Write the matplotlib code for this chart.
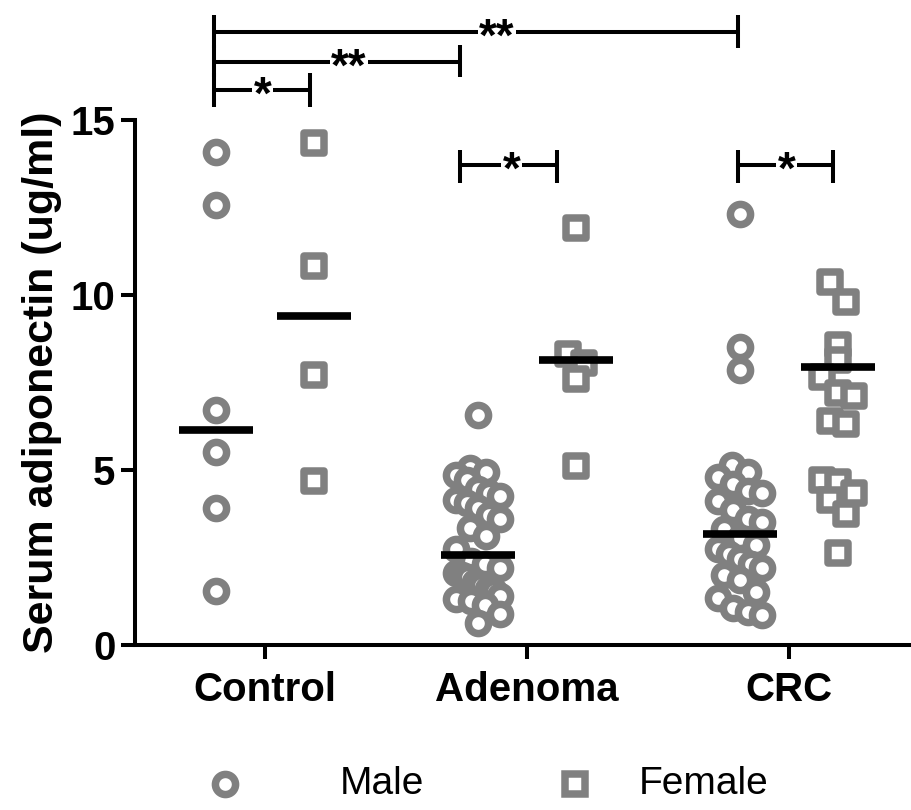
import numpy as np
import matplotlib.pyplot as plt
from matplotlib.lines import Line2D

plt.rcParams['font.family'] = ['Liberation Sans', 'DejaVu Sans']

# Daten
groups = ['Control', 'Adenoma', 'CRC']

control_male = [14.09, 12.57, 6.71, 5.51, 3.91, 1.54]
control_female = [14.34, 10.83, 7.71, 4.69]
adenoma_male = [6.57, 5.06, 4.95, 4.85, 4.7, 4.45, 4.35, 4.25, 4.15, 4.05, 3.9, 3.7,
                3.6, 3.35, 3.1, 2.75, 2.4, 2.3, 2.2, 2.05, 2.0, 1.95, 1.8, 1.7, 1.6,
                1.55, 1.4, 1.3, 1.25, 1.15, 0.9, 0.63]
adenoma_female = [11.9, 8.3, 8.05, 7.6, 5.1]
crc_male = [12.3, 8.5, 7.85, 5.15, 4.95, 4.8, 4.6, 4.4, 4.35, 4.1, 3.85, 3.6, 3.5,
            3.3, 3.05, 2.85, 2.75, 2.6, 2.45, 2.3, 2.2, 2.0, 1.85, 1.5, 1.35, 1.05,
            0.95, 0.85]
crc_female = [10.37, 9.8, 8.57, 8.15, 7.65, 7.2, 7.1, 6.4, 6.3, 4.7, 4.65, 4.35,
              4.15, 3.75, 2.63]

median_male = [6.14, 2.57, 3.17]
median_female = [9.4, 8.13, 7.94]

male = [control_male, adenoma_male, crc_male]
female = [control_female, adenoma_female, crc_female]

# Signifikanzen der Vergleiche
comparisons = ['*', '**', '**', '*', '*']

grey = '#808080'


def spread(vals, center, bin_h=0.7, step=0.062, half_max=0.085):
    # einfache Verteilung wie bei Prism: Punkte im selben y-Bereich nebeneinander
    vals = np.asarray(vals, dtype=float)
    xs = np.full(len(vals), center)
    bins = np.floor(vals / bin_h)
    for b in np.unique(bins):
        idx = np.where(bins == b)[0]
        n = len(idx)
        if n < 2:
            continue
        s = min(step, 2 * half_max / (n - 1))
        idx = idx[np.argsort(-vals[idx])]
        xs[idx] = center + (np.arange(n) - (n - 1) / 2) * s
    return xs


fig = plt.figure(figsize=(9.12, 8.10), dpi=100)
ax = fig.add_axes([0.148, 0.2037, 0.852, 0.6482])

centers = np.arange(1, 4)
off = 0.187
ms = 14.5
mew = 5.4

for i, c in enumerate(centers):
    xm = c - off
    xf = c + off
    ax.scatter(spread(male[i], xm), male[i], s=ms ** 2, marker='o', facecolor='white',
               edgecolor=grey, linewidths=mew, zorder=3, clip_on=False)
    ax.scatter(spread(female[i], xf), female[i], s=ms ** 2, marker='s', facecolor='white',
               edgecolor=grey, linewidths=mew, zorder=3, clip_on=False)
    ax.hlines(median_male[i], xm - 0.14, xm + 0.14, color='black', lw=5.5, zorder=4)
    ax.hlines(median_female[i], xf - 0.14, xf + 0.14, color='black', lw=5.5, zorder=4)

ax.set_xlim(0.504, 3.469)
ax.set_ylim(0, 15)
ax.set_yticks([0, 5, 10, 15])
ax.set_xticks(centers)
ax.set_xticklabels(groups)

for s in ['top', 'right']:
    ax.spines[s].set_visible(False)
for s in ['left', 'bottom']:
    ax.spines[s].set_linewidth(2.9)
ax.tick_params(width=2.9, length=10, labelsize=29)
ax.tick_params(axis='x', pad=9)
ax.tick_params(axis='y', pad=4)
for lab in ax.get_xticklabels() + ax.get_yticklabels():
    lab.set_fontweight('bold')
ax.set_ylabel('Serum adiponectin (ug/ml)', fontsize=31, fontweight='bold', labelpad=6)


def bracket(x1, x2, y, top, bot, label, lx):
    kw = dict(color='black', lw=2.9, clip_on=False, solid_capstyle='butt')
    ax.plot([x1, x2], [y, y], **kw)
    ax.plot([x1, x1], [top, bot], **kw)
    ax.plot([x2, x2], [top, bot], **kw)
    ax.text(lx, y - 0.2, label, ha='center', va='center', fontsize=33,
            fontweight='bold', clip_on=False,
            bbox=dict(facecolor='white', edgecolor='none', pad=1))


bracket(0.805, 1.172, 15.86, 16.34, 15.37, comparisons[0], 0.99)
bracket(0.805, 1.744, 16.66, 17.14, 16.23, comparisons[1], 1.32)
bracket(0.805, 2.805, 17.51, 18.0, 17.06, comparisons[2], 1.885)
bracket(1.744, 2.115, 13.71, 14.14, 13.2, comparisons[3], 1.94)
bracket(2.805, 3.168, 13.71, 14.14, 13.2, comparisons[4], 2.99)

# Legende von Hand gesetzt
leg_y = 0.032
for mx, mk in [(0.2467, 'o'), (0.6305, 's')]:
    fig.add_artist(Line2D([mx], [leg_y], transform=fig.transFigure, marker=mk,
                          markersize=ms, markeredgewidth=mew, markerfacecolor='white',
                          markeredgecolor=grey, linestyle='none'))
fig.text(0.3728, leg_y, 'Male', fontsize=28, ha='left', va='center')
fig.text(0.7007, leg_y, 'Female', fontsize=28, ha='left', va='center')

fig.savefig('out.png', dpi=100)
